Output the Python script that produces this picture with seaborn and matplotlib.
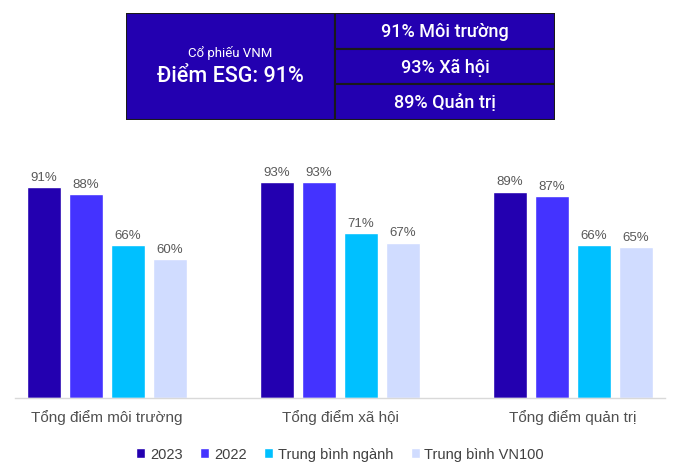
import numpy as np
import pandas as pd
import matplotlib.pyplot as plt
import seaborn as sns
from matplotlib.patches import Rectangle

# ── data ───────────────────────────────────────────────────
categories = ['Tổng điểm môi trường', 'Tổng điểm xã hội', 'Tổng điểm quản trị']
series = ['2023', '2022', 'Trung bình ngành', 'Trung bình VN100']
v2023 = [91, 93, 89]
v2022 = [88, 93, 87]
v_nganh = [66, 71, 66]
v_vn100 = [60, 67, 65]
colors = ['#2300B0', '#4433FF', '#00C0FF', '#D0DCFF']

table_title = 'Cổ phiếu VNM'
table_score = 'Điểm ESG: 91%'
table_rows = ['91% Môi trường', '93% Xã hội', '89% Quản trị']

df = pd.DataFrame({
    'cat': categories * 4,
    'series': np.repeat(series, 3),
    'value': v2023 + v2022 + v_nganh + v_vn100,
})

# ── figure ─────────────────────────────────────────────────
sns.set_style('white')
plt.rcParams['font.family'] = ['Liberation Sans', 'DejaVu Sans']

fig = plt.figure(figsize=(6.8, 4.64), dpi=100)
ax = fig.add_axes([15 / 680, 65 / 464, 650 / 680, 232 / 464])

sns.barplot(data=df, x='cat', y='value', hue='series', order=categories,
            hue_order=series, palette=colors, width=0.72, gap=0.19,
            saturation=1, legend=True, ax=ax)

for cont in ax.containers:
    ax.bar_label(cont, labels=[f'{v:.0f}%' for v in cont.datavalues],
                 padding=3, fontsize=9.5, color='#595959')

ax.set_ylim(0, 100)
ax.set_xlim(-0.395, 2.395)
ax.set_xlabel('')
ax.set_ylabel('')
ax.set_yticks([])
ax.tick_params(axis='x', length=0, pad=8, labelsize=11, labelcolor='#505050')
for s in ['top', 'left', 'right']:
    ax.spines[s].set_visible(False)
ax.spines['bottom'].set_color('#d9d9d9')
ax.spines['bottom'].set_linewidth(1)

ax.legend(loc='upper center', bbox_to_anchor=(0.5, -0.155), ncol=4,
          frameon=False, fontsize=10.5, handlelength=0.65, handleheight=0.65,
          handletextpad=0.3, columnspacing=1.2, labelcolor='#404040')

# ── summary table on top ───────────────────────────────────
tfont = ['Roboto', 'DejaVu Sans']
tx = fig.add_axes([126 / 680, (464 - 121) / 464, 429 / 680, 107 / 464])
tx.set_xlim(0, 429)
tx.set_ylim(0, 107)
tx.axis('off')
bg = '#2300B0'
edge = '#1a1a1a'
tx.add_patch(Rectangle((0, 0), 209, 107, facecolor=bg, edgecolor=edge, lw=1.5))
row_h = 107 / 3
for i, txt in enumerate(table_rows):
    y0 = 107 - (i + 1) * row_h
    tx.add_patch(Rectangle((209, y0), 220, row_h, facecolor=bg,
                           edgecolor=edge, lw=1.5))
    tx.text(209 + 110, y0 + row_h / 2, txt, color='white', fontsize=13,
            fontweight='medium', ha='center', va='center', family=tfont)
tx.text(104.5, 68, table_title, color='white', fontsize=9.5,
        ha='center', va='center', family=tfont)
tx.text(104.5, 45, table_score, color='white', fontsize=15.5,
        fontweight='medium', ha='center', va='center', family=tfont)

fig.savefig('out.png', dpi=100)
